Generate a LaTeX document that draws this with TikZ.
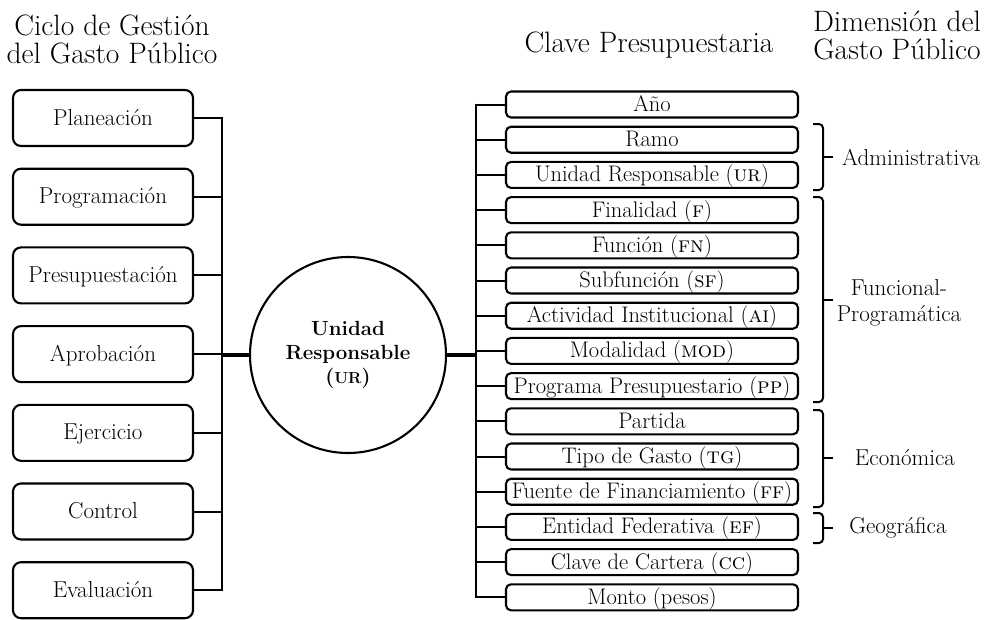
\documentclass[tikz,border=0pt]{standalone}
\newcommand\bsc[1]{{\fontsize{16}{18}\selectfont #1}}
\begin{document}
\begin{tikzpicture}[x=1pt,y=-1pt,
  lbox/.style={draw, rounded corners=8pt, minimum width=180pt, minimum height=56pt,
    line width=2.1pt, inner sep=0pt, font=\fontsize{23}{26}\selectfont,
    text height=17pt, text depth=3pt},
  rbox/.style={draw, rounded corners=5pt, minimum width=292pt, minimum height=26pt,
    line width=2.1pt, inner sep=0pt, font=\fontsize{22.5}{26}\selectfont,
    text height=17pt, text depth=3pt},
  conn/.style={line width=2pt},
  busline/.style={line width=4.5pt},
  brk/.style={line width=2pt, rounded corners=4pt},
  ttl/.style={font=\fontsize{29.5}{28}\selectfont, align=center, inner sep=0pt},
  dimlabel/.style={font=\fontsize{23}{26}\selectfont, align=center, inner sep=0pt}]
\useasboundingbox (0,0) rectangle (994,619);

% titles
\node[ttl] (t1) at (112,39) {Ciclo de Gestión\\del Gasto Público};
\node[ttl, anchor=base] (t2) at (649,52) {Clave Presupuestaria};
\node[ttl] (t3) at (897,35) {Dimensión del\\Gasto Público};

% left boxes
\foreach \n/\t [count=\i from 0] in {L1/Planeación, L2/Programación, L3/Presupuestación,
  L4/Aprobación, L5/Ejercicio, L6/Control, L7/Evaluación}
  \node[lbox] (\n) at (103, 118+78.7*\i) {\t};

% circle
\node[circle, draw, line width=2.1pt, minimum size=196pt, inner sep=0pt,
  font=\bfseries\fontsize{20.5}{24}\selectfont, align=center] (C) at (348,355)
  {Unidad\\Responsable\\(\bsc{UR})};

% right boxes
\foreach \n/\t [count=\i from 0] in {R0/Año, R1/Ramo, R2/Unidad Responsable (\textsc{ur}),
  R3/Finalidad (\textsc{f}), R4/Función (\textsc{fn}), R5/Subfunción (\textsc{sf}),
  R6/Actividad Institucional (\textsc{ai}), R7/Modalidad (\textsc{mod}),
  R8/Programa Presupuestario (\textsc{pp}), R9/Partida, R10/Tipo de Gasto (\textsc{tg}),
  R11/Fuente de Financiamiento (\textsc{ff}), R12/Entidad Federativa (\textsc{ef}),
  R13/Clave de Cartera (\textsc{cc}), R14/Monto (pesos)}
  \node[rbox] (\n) at (652, 104.5+35.2*\i) {\t};

% left bus
\coordinate (lbus) at (222,355);
\foreach \n in {L1,L2,L3,L4,L5,L6,L7}
  \draw[conn] (\n.east) -- (\n.east -| lbus);
\draw[conn] ([yshift=1pt]L1.east -| lbus) -- ([yshift=-1pt]L7.east -| lbus);
\draw[busline] (lbus) -- (C.west);

% right bus
\coordinate (rbus) at (476,355);
\foreach \n in {R0,R1,R2,R3,R4,R5,R6,R7,R8,R9,R10,R11,R12,R13,R14}
  \draw[conn] (\n.west -| rbus) -- (\n.west);
\draw[conn] ([yshift=1pt]R0.west -| rbus) -- ([yshift=-1pt]R14.west -| rbus);
\draw[busline] (C.east) -- (rbus);

% brackets
\draw[brk] (813,124) -- (823,124) -- (823,190) -- (813,190);
\draw[conn] (823,157) -- (833,157);
\draw[brk] (813,197) -- (823,197) -- (823,402) -- (813,402);
\draw[conn] (823,300) -- (833,300);
\draw[brk] (813,410) -- (823,410) -- (823,507) -- (813,507);
\draw[conn] (823,458) -- (833,458);
\draw[brk] (813,513) -- (823,513) -- (823,543) -- (813,543);
\draw[conn] (823,528) -- (833,528);

% dimension labels
\node[dimlabel, anchor=west] (d1) at (842,157) {Administrativa};
\node[dimlabel] (d2) at (899,303) {Funcional-\\Programática};
\node[dimlabel] (d3) at (905,458) {Económica};
\node[dimlabel] (d4) at (898,528) {Geográfica};
\end{tikzpicture}
\end{document}
